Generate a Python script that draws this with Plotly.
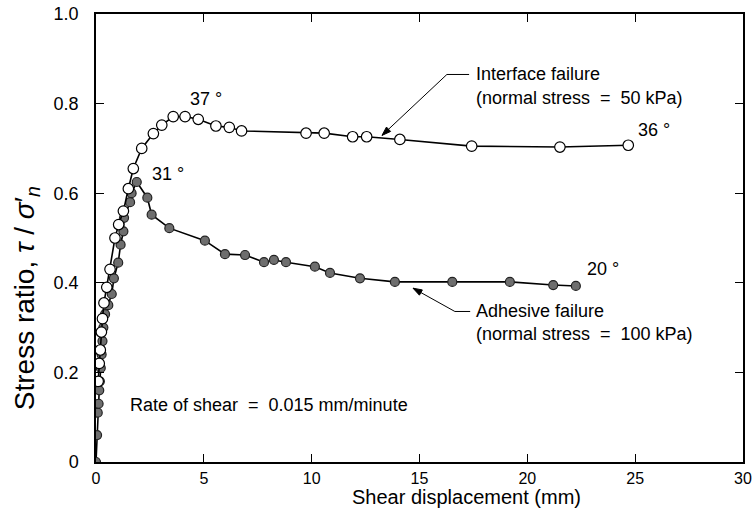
import math
import plotly.graph_objects as go

# Interface failure (normal stress = 50 kPa) - open circles
interface_x = [0.10, 0.15, 0.20, 0.25, 0.30, 0.37, 0.50, 0.65, 0.88, 1.05, 1.27, 1.50, 1.73,
               2.12, 2.66, 3.05, 3.58, 4.13, 4.74, 5.56, 6.18, 6.75, 9.74, 10.58, 11.90,
               12.55, 14.09, 17.42, 21.51, 24.68]
interface_y = [0.18, 0.22, 0.25, 0.29, 0.32, 0.355, 0.39, 0.43, 0.50, 0.53, 0.56, 0.61, 0.655,
               0.70, 0.733, 0.752, 0.771, 0.771, 0.765, 0.750, 0.747, 0.739, 0.734, 0.734, 0.726,
               0.726, 0.720, 0.705, 0.703, 0.707]

# Adhesive failure (normal stress = 100 kPa) - filled circles
adhesive_x = [0.0, 0.05, 0.08, 0.12, 0.15, 0.18, 0.22, 0.26, 0.30, 0.34, 0.42, 0.57, 0.73, 0.83,
              1.03, 1.14, 1.27, 1.30, 1.58, 1.65, 1.89, 2.38, 2.58, 3.40, 5.05, 5.98, 6.91,
              7.79, 8.25, 8.81, 10.15, 10.85, 12.24, 13.86, 16.52, 19.19, 21.20, 22.25]
adhesive_y = [0.0, 0.06, 0.11, 0.13, 0.16, 0.18, 0.21, 0.24, 0.27, 0.30, 0.33, 0.35, 0.375, 0.41,
              0.445, 0.485, 0.515, 0.545, 0.58, 0.60, 0.625, 0.59, 0.552, 0.522, 0.494, 0.464,
              0.462, 0.446, 0.451, 0.446, 0.436, 0.422, 0.410, 0.402, 0.402, 0.402, 0.395, 0.393]

x_ticks = [0, 5, 10, 15, 20, 25, 30]
y_ticks = [0, 0.2, 0.4, 0.6, 0.8, 1.0]
y_tick_labels = ["0", "0.2", "0.4", "0.6", "0.8", "1.0"]

FONT = "Liberation Sans, Arial, sans-serif"
EQ = "&nbsp;&nbsp;=&nbsp;&nbsp;"

W, H = 755, 510
ML, MR, MT, MB = 96, 12, 14, 48
X_RANGE, Y_RANGE = [0, 30], [0, 1.0]
PX_X = (W - ML - MR) / (X_RANGE[1] - X_RANGE[0])   # pixels per mm
PX_Y = (H - MT - MB) / (Y_RANGE[1] - Y_RANGE[0])   # pixels per unit ratio

fig = go.Figure()
fig.add_trace(go.Scatter(
    x=adhesive_x, y=adhesive_y, mode="lines+markers",
    line=dict(color="black", width=1.6),
    marker=dict(size=9, color="#6e6e6e", line=dict(color="#222", width=1.2)),
    showlegend=False))
fig.add_trace(go.Scatter(
    x=interface_x, y=interface_y, mode="lines+markers",
    line=dict(color="black", width=1.6),
    marker=dict(size=10.5, color="white", line=dict(color="black", width=1.2)),
    showlegend=False))

txt = dict(family=FONT, size=18, color="black")
annos = [
    dict(x=4.27, y=0.81, text="37 °"),
    dict(x=2.5, y=0.643, text="31 °"),
    dict(x=25.04, y=0.74, text="36 °"),
    dict(x=22.67, y=0.43, text="20 °"),
    dict(x=17.52, y=0.865, text="Interface failure"),
    dict(x=17.52, y=0.812, text="(normal stress" + EQ + "50 kPa)"),
    dict(x=17.52, y=0.336, text="Adhesive failure"),
    dict(x=17.52, y=0.285, text="(normal stress" + EQ + "100 kPa)"),
    dict(x=1.48, y=0.128, text="Rate of shear" + EQ + "0.015 mm/minute"),
]
for a in annos:
    fig.add_annotation(xref="x", yref="y", showarrow=False, xanchor="left",
                       yanchor="middle", font=txt, **a)


def leader(tip, elbow, end):
    """Leader line: horizontal dash (elbow->end), diagonal (elbow->tip), arrowhead at tip."""
    line = dict(color="black", width=1)
    fig.add_shape(type="line", xref="x", yref="y", x0=elbow[0], y0=elbow[1],
                  x1=end[0], y1=end[1], line=line)
    fig.add_shape(type="line", xref="x", yref="y", x0=elbow[0], y0=elbow[1],
                  x1=tip[0], y1=tip[1], line=line)
    dxp = (elbow[0] - tip[0]) * PX_X
    dyp = (elbow[1] - tip[1]) * PX_Y
    n = math.hypot(dxp, dyp)
    ux, uy = dxp / n, dyp / n
    L, hw = 9, 3
    bx, by = ux * L, uy * L
    px, py = -uy * hw, ux * hw
    pts = [(tip[0], tip[1]),
           (tip[0] + (bx + px) / PX_X, tip[1] + (by + py) / PX_Y),
           (tip[0] + (bx - px) / PX_X, tip[1] + (by - py) / PX_Y)]
    path = "M {} {} L {} {} L {} {} Z".format(*[v for p in pts for v in p])
    fig.add_shape(type="path", xref="x", yref="y", path=path,
                  fillcolor="black", line=dict(color="black", width=1))


leader((13.26, 0.729), (16.27, 0.865), (17.3, 0.865))
leader((14.70, 0.388), (16.64, 0.336), (17.35, 0.336))

# axis titles
fig.add_annotation(xref="paper", yref="paper", x=0.572, y=-0.107, xanchor="center",
                   yanchor="bottom", showarrow=False, text="Shear displacement (mm)",
                   font=dict(family=FONT, size=20, color="black"))
fig.add_annotation(xref="paper", yref="paper", x=-0.108, y=0.366, xanchor="center",
                   yanchor="middle", showarrow=False, textangle=-90,
                   text="Stress ratio, <i>τ</i> / <i>σ</i>′<sub><i>n</i></sub>",
                   font=dict(family=FONT, size=28, color="black"))

axis_common = dict(showline=True, linecolor="black", linewidth=1.5, mirror="ticks",
                   ticks="inside", ticklen=8, tickcolor="black", tickwidth=1,
                   showgrid=False, zeroline=False, automargin=False)
fig.update_xaxes(range=X_RANGE, tickvals=x_ticks, ticklabelstandoff=1,
                 tickfont=dict(family=FONT, size=16, color="black"), **axis_common)
fig.update_yaxes(range=Y_RANGE, tickvals=y_ticks, ticktext=y_tick_labels,
                 ticklabelstandoff=12, tickfont=dict(family=FONT, size=18, color="black"),
                 **axis_common)

fig.update_layout(width=W, height=H, margin=dict(l=ML, r=MR, t=MT, b=MB),
                  paper_bgcolor="white", plot_bgcolor="white")
fig.write_html("out.html")
